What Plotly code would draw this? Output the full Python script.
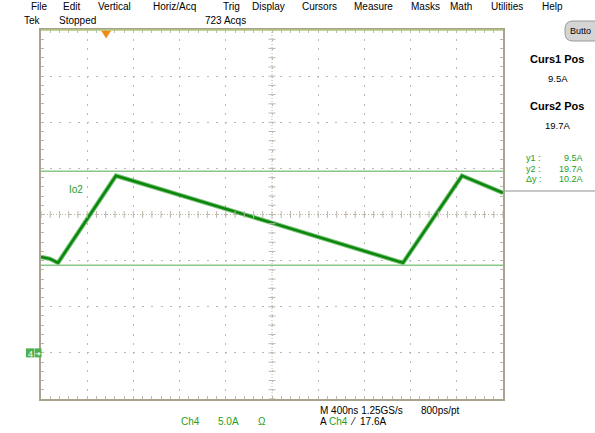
import numpy as np
import plotly.graph_objects as go

# ---- data (time in ns, current in A) ----
t_ns = [0, 78, 147, 649, 2000, 3134, 3645, 4000]
i_A = [10.4, 10.2, 9.76, 19.2, 14.1, 9.76, 19.2, 17.35]
curs_y1 = 9.5
curs_y2 = 19.7
trig_level = 17.6
menu_items = ["File", "Edit", "Vertical", "Horiz/Acq", "Trig", "Display",
              "Cursors", "Measure", "Masks", "Math", "Utilities", "Help"]
menu_x = [30, 62, 97, 152, 222, 251, 301, 353, 410, 449, 490, 541]

W, H = 595, 433
L, R, T, B = 41, 503, 30, 399
XR = [0, 4000]
YR = [-5, 35]
FONT = "Liberation Sans"
TXTGREEN = "#1e9e1e"

def px(xp):
    return (xp - L) / (R - L)

def py(yp):
    return (B - yp) / (B - T)

fig = go.Figure()

# wide band + core trace
fig.add_trace(go.Scatter(x=t_ns, y=i_A, mode="lines",
                         line=dict(color="rgba(30,150,30,0.6)", width=4.5),
                         hoverinfo="skip", showlegend=False))
fig.add_trace(go.Scatter(x=t_ns, y=i_A, mode="lines",
                         line=dict(color="#0a870a", width=2.4),
                         showlegend=False))

# center cross tick marks (graticule decoration)
sub_x = np.arange(XR[0], XR[1] + 1, 80)
sub_y = np.arange(YR[0], YR[1] + 0.01, 1.0)
fig.add_trace(go.Scatter(x=sub_x, y=[15] * len(sub_x), mode="markers",
                         marker=dict(symbol="line-ns", size=5,
                                     line=dict(color="#c0b8a8", width=1)),
                         hoverinfo="skip", showlegend=False))
fig.add_trace(go.Scatter(x=[2000] * len(sub_y), y=sub_y, mode="markers",
                         marker=dict(symbol="line-ew", size=5,
                                     line=dict(color="#c0b8a8", width=1)),
                         hoverinfo="skip", showlegend=False))

shapes = []
# center lines
shapes.append(dict(type="line", xref="x", yref="y", x0=XR[0], x1=XR[1], y0=15, y1=15,
                   line=dict(color="#bcb4a4", width=1, dash="1px,2px"), layer="below"))
shapes.append(dict(type="line", xref="x", yref="y", x0=2000, x1=2000, y0=YR[0], y1=YR[1],
                   line=dict(color="#bcb4a4", width=1, dash="1px,2px"), layer="below"))
# cursors
for cy in (curs_y1, curs_y2):
    shapes.append(dict(type="line", xref="x", yref="y", x0=XR[0], x1=XR[1], y0=cy, y1=cy,
                       line=dict(color="#88c888", width=1.5)))
# top border (green)
shapes.append(dict(type="line", xref="paper", yref="paper", x0=0, x1=1, y0=1, y1=1,
                   line=dict(color="#b0c878", width=1.6)))
# trigger marker at crossing time
rise_t = np.interp(trig_level, i_A[2:4], t_ns[2:4])
tx = (rise_t - XR[0]) / (XR[1] - XR[0])
dx = 4.5 / (R - L)
shapes.append(dict(type="path", xref="paper", yref="paper",
                   path=f"M {tx-dx},{py(31)} L {tx+dx},{py(31)} L {tx},{py(38)} Z",
                   fillcolor="#f08a10", line=dict(color="#f08a10", width=0.5)))
# ground marker for Ch4
g0 = (0 - YR[0]) / (YR[1] - YR[0])
h = 4.5 / (B - T)
shapes.append(dict(type="rect", xref="paper", yref="paper", x0=px(26), x1=px(34.5),
                   y0=g0 - h, y1=g0 + h, fillcolor="#4cb04c", line=dict(width=0)))
shapes.append(dict(type="rect", xref="paper", yref="paper", x0=px(35), x1=px(41.5),
                   y0=g0 - h, y1=g0 + h, fillcolor="#4cb04c", line=dict(width=0)))
# right panel separator
shapes.append(dict(type="line", xref="paper", yref="paper", x0=px(505), x1=px(596),
                   y0=py(191), y1=py(191), line=dict(color="#c8c8c8", width=2)))
# "Button" widget (rounded pill, cut off at the right edge)
ax0, ax1 = px(565), px(605)
ay0, ay1 = py(41), py(21)
rx = px(573) - px(565)
ry = py(21) - py(29)
btn_path = (f"M {ax0+rx},{ay1} L {ax1},{ay1} L {ax1},{ay0} L {ax0+rx},{ay0} "
            f"Q {ax0},{ay0} {ax0},{ay0+ry} L {ax0},{ay1-ry} Q {ax0},{ay1} {ax0+rx},{ay1} Z")
shapes.append(dict(type="path", xref="paper", yref="paper", path=btn_path,
                   fillcolor="#d4d4d4", line=dict(color="#9a9a9a", width=1)))

ann = []
def text(s, x, y, size=10, color="black", xa="center", ya="middle", bold=False):
    if bold:
        s = f"<b>{s}</b>"
    ann.append(dict(text=s, x=px(x), y=py(y), xref="paper", yref="paper",
                    showarrow=False, xanchor=xa, yanchor=ya, borderpad=0,
                    font=dict(family=FONT, size=size, color=color)))

for m, mx in zip(menu_items, menu_x):
    text(m, mx, 7, size=10, xa="left")
text("Tek", 23, 21, xa="left")
text("Stopped", 58, 21, xa="left")
text("723 Acqs", 225, 21)
text("Butto", 569, 31, size=9, xa="left")

text("Curs1 Pos", 557, 59, size=11, bold=True)
text(f"{curs_y1}A", 558, 78, size=9.5)
text("Curs2 Pos", 557, 106, size=11, bold=True)
text(f"{curs_y2}A", 557, 126, size=9.5)
for lab, val, yy in (("y1 :", curs_y1, 158.5), ("y2 :", curs_y2, 168.5),
                     ("Δy :", round(curs_y2 - curs_y1, 1), 178.5)):
    text(lab, 525, yy, size=9, color=TXTGREEN, xa="left")
    text(f"{val}A", 584, yy, size=9, color=TXTGREEN, xa="right")

text("Io2", 68, 189, size=10, color=TXTGREEN, xa="left")
text("4", 30, 353.5, size=9, color="white")
text("➜", 38.3, 353.5, size=7, color="white")

text("Ch4", 180, 421, size=10, color=TXTGREEN, xa="left")
text("5.0A", 217, 421, size=10, color=TXTGREEN, xa="left")
text("Ω", 257, 421, size=10, color=TXTGREEN, xa="left")
text("M 400ns 1.25GS/s", 319, 410, size=10, xa="left")
text("800ps/pt", 420, 410, size=10, xa="left")
text(f"A <span style='color:{TXTGREEN}'>Ch4</span>  ⁄  {trig_level}A", 319, 421, size=10, xa="left")

axis_common = dict(showline=True, linecolor="#a8a28e", linewidth=1.6, mirror="ticks",
                   ticks="inside", ticklen=3, tickcolor="#bdb9ad", showticklabels=False,
                   showgrid=True, gridcolor="#b8b8b8", gridwidth=1,
                   zeroline=False, fixedrange=True)

fig.update_layout(
    width=W, height=H,
    margin=dict(l=L, r=W - R, t=T, b=H - B),
    paper_bgcolor="white", plot_bgcolor="white",
    showlegend=False,
    xaxis=dict(range=XR, dtick=400, tick0=0, griddash="2px,7.2px",
               minor=dict(dtick=80, ticks="inside", ticklen=3, tickcolor="#bdb9ad", showgrid=False),
               **axis_common),
    yaxis=dict(range=YR, dtick=5, tick0=0, griddash="2px,7.2px",
               minor=dict(dtick=1, ticks="inside", ticklen=3, tickcolor="#bdb9ad", showgrid=False),
               **axis_common),
    shapes=shapes,
    annotations=ann,
)

fig.write_html("out.html", config={"displayModeBar": False},
               post_script="document.body.style.margin='0px';document.body.style.overflow='hidden';")
